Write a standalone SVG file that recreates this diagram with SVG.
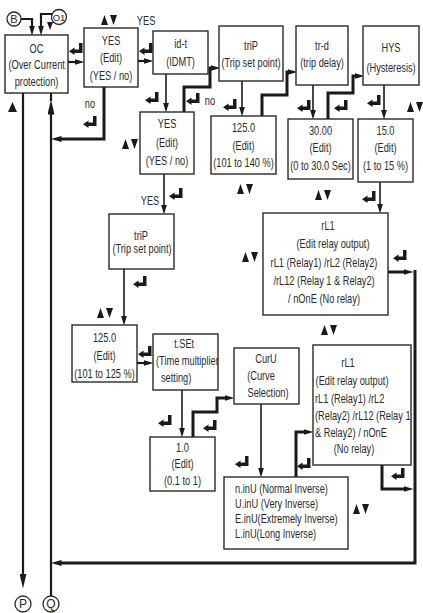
<svg xmlns="http://www.w3.org/2000/svg" xmlns:xlink="http://www.w3.org/1999/xlink" width="423" height="613" viewBox="0 0 423 613">
<style>
.box{fill:#fff;stroke:#2a2a2a;stroke-width:1.4}
.t{font-family:"Liberation Sans",Arial,sans-serif;font-size:13.5px;fill:#2a2a2a}
.c{text-anchor:middle;transform-box:fill-box;transform-origin:center;transform:scaleX(0.685)}
.l{transform-box:fill-box;transform-origin:left center;transform:scaleX(0.685)}
.thin{fill:none;stroke:#1a1a1a;stroke-width:1.6}
.mid{fill:none;stroke:#1a1a1a;stroke-width:2.2}
.thick{fill:none;stroke:#1a1a1a;stroke-width:3}
.circ{fill:#fff;stroke:#2a2a2a;stroke-width:1.3}
.ct{font-family:"Liberation Sans",Arial,sans-serif;font-size:11px;fill:#2a2a2a;text-anchor:middle}
.sym{fill:#1a1a1a}
</style>
<defs>
<marker id="a" viewBox="0 0 10 6" refX="0.5" refY="3" markerWidth="10" markerHeight="6" markerUnits="userSpaceOnUse" orient="auto"><path d="M0,0 L10,3 L0,6 Z" fill="#1a1a1a"/></marker>
<marker id="aL" viewBox="0 0 15 7" refX="0.5" refY="3.5" markerWidth="15" markerHeight="7" markerUnits="userSpaceOnUse" orient="auto"><path d="M0,0 L15,3.5 L0,7 Z" fill="#1a1a1a"/></marker>
<symbol id="ret" viewBox="0 0 14 12" width="14" height="12"><path d="M10,0 H13.5 V10 H5.5 V12 L0,8.25 L5.5,4.5 V6.5 H10 Z" fill="#1a1a1a"/></symbol>
<symbol id="ud" viewBox="0 0 16 10" width="16" height="10"><path d="M0,10 L3.5,0 L7,10 Z M9,0 L16,0 L12.5,10 Z" fill="#1a1a1a"/></symbol>
</defs>

<g id="connectors">
<path class="mid" d="M21,19 H32 V26" marker-end="url(#a)"/>
<path class="mid" d="M52,14 H41 V26" marker-end="url(#a)"/>
<path class="mid" d="M23,93 V574" marker-end="url(#aL)"/>
<path class="mid" d="M51,596 V114" marker-end="url(#aL)"/>
<path class="mid" d="M51,101 V93"/>
<path class="mid" d="M68,62 H75" marker-end="url(#a)"/>
<path class="mid" d="M138,61 H144" marker-end="url(#a)"/>
<path class="thick" d="M104,87 V139 H61" marker-end="url(#a)"/>
<path class="thin" d="M166,74 V103" marker-end="url(#a)"/>
<path class="thick" d="M184,112 V87 H210 V68 H211" marker-end="url(#a)"/>
<path class="thin" d="M242,81 V107" marker-end="url(#a)"/>
<path class="thick" d="M262,116 V95 H287 V72 H288" marker-end="url(#a)"/>
<path class="thin" d="M313,85 V110" marker-end="url(#a)"/>
<path class="thick" d="M328,119 V93 H353 V76 H355" marker-end="url(#a)"/>
<path class="thin" d="M384,85 V110" marker-end="url(#a)"/>
<path class="thin" d="M380,182 V204" marker-end="url(#a)"/>
<path class="thick" d="M388,272 H404" marker-end="url(#a)"/>
<path class="thin" d="M164,174 V205" marker-end="url(#a)"/>
<path class="thin" d="M124,269 V316" marker-end="url(#a)"/>
<path class="mid" d="M137,363 H144" marker-end="url(#a)"/>
<path class="thin" d="M182,390 V428" marker-end="url(#a)"/>
<path class="thick" d="M193,437 V412 H217 V398 H225" marker-end="url(#a)"/>
<path class="thin" d="M261,404 V468" marker-end="url(#a)"/>
<path class="thick" d="M296,477 V432 H304" marker-end="url(#a)"/>
<path class="thick" d="M382,465 V489 H404" marker-end="url(#a)"/>
<path class="thick" d="M415,270 V563 H61" marker-end="url(#a)"/>
</g>

<g id="keys">
<polygon class="sym" points="47,22 53,22 50,30"/>
<polygon class="sym" points="8,112 12.5,102 17,112"/>
<use xlink:href="#ret" x="69" y="43"/>
<use xlink:href="#ret" x="83" y="116"/>
<use xlink:href="#ret" x="139" y="43"/>
<use xlink:href="#ret" x="145" y="92"/>
<use xlink:href="#ret" x="186" y="93"/>
<use xlink:href="#ret" x="223" y="99"/>
<use xlink:href="#ret" x="297" y="100"/>
<use xlink:href="#ret" x="334" y="100"/>
<use xlink:href="#ret" x="367" y="95"/>
<use xlink:href="#ret" x="362" y="191"/>
<use xlink:href="#ret" x="393" y="250"/>
<use xlink:href="#ret" x="169" y="188"/>
<use xlink:href="#ret" x="133" y="276"/>
<use xlink:href="#ret" x="138" y="346"/>
<use xlink:href="#ret" x="158" y="415"/>
<use xlink:href="#ret" x="203" y="420"/>
<use xlink:href="#ret" x="235" y="456"/>
<use xlink:href="#ret" x="297" y="458"/>
<use xlink:href="#ret" x="391" y="468"/>
<use xlink:href="#ud" x="101" y="15"/>
<use xlink:href="#ud" x="122" y="139"/>
<use xlink:href="#ud" x="237" y="184"/>
<use xlink:href="#ud" x="315" y="190"/>
<use xlink:href="#ud" x="407" y="102"/>
<use xlink:href="#ud" x="242" y="252"/>
<use xlink:href="#ud" x="97" y="308"/>
<use xlink:href="#ud" x="321" y="325"/>
<use xlink:href="#ud" x="353" y="504"/>
</g>

<g id="labels">
<text class="t c" x="146" y="25">YES</text>
<text class="t c" x="90" y="108">no</text>
<text class="t c" x="210" y="105">no</text>
<text class="t c" x="150" y="205">YES</text>
</g>

<g id="n-B"><circle class="circ" cx="14" cy="19" r="7"/><text class="ct" x="14" y="23">B</text></g>
<g id="n-O1"><circle class="circ" cx="59" cy="17" r="7.5"/><text class="ct" x="59" y="21" style="font-size:9.5px">O1</text></g>
<g id="n-P"><circle class="circ" cx="23" cy="604" r="8"/><text class="ct" x="23" y="608" style="font-size:12px">P</text></g>
<g id="n-Q"><circle class="circ" cx="51" cy="604" r="8"/><text class="ct" x="51" y="608" style="font-size:12px">Q</text></g>

<g id="n-oc"><rect class="box" x="5" y="35" width="63" height="58"/>
<text class="t c" x="36.5" y="53">OC</text><text class="t c" x="36.5" y="69">(Over Current</text><text class="t c" x="36.5" y="86">protection)</text></g>

<g id="n-yes1"><rect class="box" x="84" y="28" width="54" height="59"/>
<text class="t c" x="111" y="45">YES</text><text class="t c" x="111" y="62">(Edit)</text><text class="t c" x="111" y="80">(YES / no)</text></g>

<g id="n-idt"><rect class="box" x="153" y="31" width="55" height="43"/>
<text class="t c" x="180.5" y="48">id-t</text><text class="t c" x="180.5" y="66">(IDMT)</text></g>

<g id="n-trip1"><rect class="box" x="219" y="26" width="64" height="55"/>
<text class="t c" x="251" y="50">triP</text><text class="t c" x="251" y="67">(Trip set point)</text></g>

<g id="n-trd"><rect class="box" x="296" y="26" width="52" height="59"/>
<text class="t c" x="322" y="50">tr-d</text><text class="t c" x="322" y="67">(trip delay)</text></g>

<g id="n-hys"><rect class="box" x="363" y="26" width="56" height="59"/>
<text class="t c" x="391" y="52">HYS</text><text class="t c" x="391" y="72">(Hysteresis)</text></g>

<g id="n-yes2"><rect class="box" x="140" y="112" width="54" height="62"/>
<text class="t c" x="167" y="128">YES</text><text class="t c" x="167" y="147">(Edit)</text><text class="t c" x="167" y="165">(YES / no)</text></g>

<g id="n-v125a"><rect class="box" x="211" y="116" width="65" height="58"/>
<text class="t c" x="243.5" y="132">125.0</text><text class="t c" x="243.5" y="150">(Edit)</text><text class="t c" x="243.5" y="167">(101 to 140 %)</text></g>

<g id="n-v3000"><rect class="box" x="288" y="119" width="65" height="60"/>
<text class="t c" x="320.5" y="135">30.00</text><text class="t c" x="320.5" y="152">(Edit)</text><text class="t c" x="320.5" y="170">(0 to 30.0 Sec)</text></g>

<g id="n-v150"><rect class="box" x="358" y="119" width="55" height="63"/>
<text class="t c" x="385.5" y="135">15.0</text><text class="t c" x="385.5" y="152">(Edit)</text><text class="t c" x="385.5" y="170">(1 to 15 %)</text></g>

<g id="n-rl1a"><rect class="box" x="263" y="213" width="125" height="102"/>
<text class="t c" x="328" y="230">rL1</text><text class="t c" x="333" y="248">(Edit relay output)</text><text class="t c" x="324" y="267">rL1 (Relay1) /rL2 (Relay2)</text><text class="t c" x="324" y="285">/rL12 (Relay 1 &amp; Relay2)</text><text class="t c" x="324" y="303">/ nOnE (No relay)</text></g>

<g id="n-trip2"><rect class="box" x="109" y="214" width="65" height="55"/>
<text class="t c" x="141" y="240">triP</text><text class="t c" x="142" y="253">(Trip set point)</text></g>

<g id="n-v125b"><rect class="box" x="72" y="325" width="65" height="57"/>
<text class="t c" x="104.5" y="342">125.0</text><text class="t c" x="104.5" y="360">(Edit)</text><text class="t c" x="104.5" y="378">(101 to 125 %)</text></g>

<g id="n-tset"><rect class="box" x="153" y="334" width="65" height="56"/>
<text class="t c" x="184" y="348">t.SEt</text><text class="t l" x="156" y="365">(Time multiplier</text><text class="t l" x="161" y="382">setting)</text></g>

<g id="n-v10"><rect class="box" x="150" y="437" width="65" height="54"/>
<text class="t c" x="182.5" y="452">1.0</text><text class="t c" x="182.5" y="468">(Edit)</text><text class="t c" x="182.5" y="485">(0.1 to 1)</text></g>

<g id="n-curu"><rect class="box" x="234" y="348" width="65" height="56"/>
<text class="t c" x="266" y="363">CurU</text><text class="t c" x="261" y="380">(Curve</text><text class="t c" x="268" y="397">Selection)</text></g>

<g id="n-rl1b"><rect class="box" x="313" y="345" width="98" height="120"/>
<text class="t c" x="348" y="367">rL1</text><text class="t c" x="352" y="385">(Edit relay output)</text><text class="t l" x="315" y="403">rL1 (Relay1) /rL2</text><text class="t l" x="315" y="420">(Relay2) /rL12 (Relay 1</text><text class="t l" x="315" y="437">&amp; Relay2) / nOnE</text><text class="t c" x="354" y="453">(No relay)</text></g>

<g id="n-curves"><rect class="box" x="224" y="477" width="124" height="72"/>
<text class="t l" x="235" y="493">n.inU (Normal Inverse)</text><text class="t l" x="235" y="508">U.inU (Very Inverse)</text><text class="t l" x="235" y="523">E.inU(Extremely Inverse)</text><text class="t l" x="235" y="538">L.inU(Long Inverse)</text></g>
</svg>
